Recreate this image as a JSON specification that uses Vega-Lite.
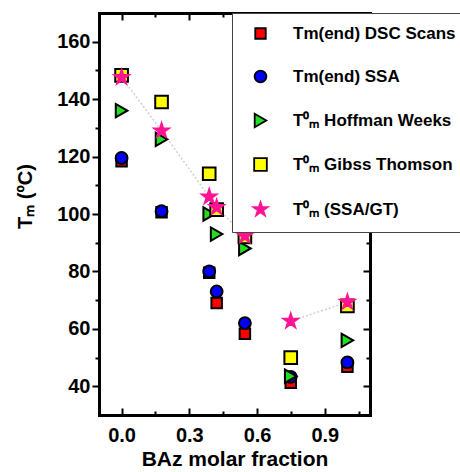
{
  "$schema": "https://vega.github.io/schema/vega-lite/v6.json",
  "width": 271,
  "height": 402,
  "autosize": {"type": "none"},
  "padding": {"left": 99, "top": 13, "right": 90, "bottom": 57},
  "background": "white",
  "config": {
    "view": {"stroke": null},
    "font": "Liberation Sans",
    "axis": {
      "grid": false,
      "domainColor": "black",
      "domainWidth": 3,
      "domainCap": "square",
      "tickColor": "black",
      "tickWidth": 2,
      "labelFont": "Liberation Sans",
      "labelFontWeight": "bold",
      "labelFontSize": 20,
      "labelColor": "black",
      "titleFont": "Liberation Sans",
      "titleFontWeight": "bold",
      "titleFontSize": 21,
      "titleColor": "black"
    },
    "legend": {
      "orient": "none",
      "legendX": 133,
      "legendY": 0,
      "fillColor": "white",
      "strokeColor": "#444444",
      "strokeWidth": 1,
      "padding": 12,
      "rowPadding": 23,
      "symbolOffset": 8,
      "labelOffset": 24,
      "labelFont": "Liberation Sans",
      "labelFontWeight": "bold",
      "labelFontSize": 17,
      "labelColor": "black",
      "labelLimit": 400,
      "symbolStrokeWidth": 1.8
    }
  },
  "data": {
    "values": [
      {"series": "Tm(end) DSC Scans", "x": 0.0, "y": 118.4, "seg": "a"},
      {"series": "Tm(end) DSC Scans", "x": 0.177, "y": 100.6, "seg": "a"},
      {"series": "Tm(end) DSC Scans", "x": 0.388, "y": 79.5, "seg": "a"},
      {"series": "Tm(end) DSC Scans", "x": 0.421, "y": 69, "seg": "a"},
      {"series": "Tm(end) DSC Scans", "x": 0.546, "y": 58.3, "seg": "a"},
      {"series": "Tm(end) DSC Scans", "x": 0.749, "y": 41.2, "seg": "b"},
      {"series": "Tm(end) DSC Scans", "x": 1.0, "y": 46.8, "seg": "b"},
      {"series": "Tm(end) SSA", "x": 0.0, "y": 119.5, "seg": "a"},
      {"series": "Tm(end) SSA", "x": 0.177, "y": 101, "seg": "a"},
      {"series": "Tm(end) SSA", "x": 0.388, "y": 80, "seg": "a"},
      {"series": "Tm(end) SSA", "x": 0.421, "y": 73, "seg": "a"},
      {"series": "Tm(end) SSA", "x": 0.546, "y": 62, "seg": "a"},
      {"series": "Tm(end) SSA", "x": 0.749, "y": 43.3, "seg": "b"},
      {"series": "Tm(end) SSA", "x": 1.0, "y": 48.3, "seg": "b"},
      {"series": "T⁰ₘ Hoffman Weeks", "x": 0.0, "y": 136, "seg": "a"},
      {"series": "T⁰ₘ Hoffman Weeks", "x": 0.177, "y": 126, "seg": "a"},
      {"series": "T⁰ₘ Hoffman Weeks", "x": 0.388, "y": 100, "seg": "a"},
      {"series": "T⁰ₘ Hoffman Weeks", "x": 0.421, "y": 93, "seg": "a"},
      {"series": "T⁰ₘ Hoffman Weeks", "x": 0.546, "y": 88, "seg": "a"},
      {"series": "T⁰ₘ Hoffman Weeks", "x": 0.749, "y": 43.5, "seg": "b"},
      {"series": "T⁰ₘ Hoffman Weeks", "x": 1.0, "y": 56, "seg": "b"},
      {"series": "T⁰ₘ Gibss Thomson", "x": 0.0, "y": 148.3, "seg": "a"},
      {"series": "T⁰ₘ Gibss Thomson", "x": 0.177, "y": 139, "seg": "a"},
      {"series": "T⁰ₘ Gibss Thomson", "x": 0.388, "y": 114, "seg": "a"},
      {"series": "T⁰ₘ Gibss Thomson", "x": 0.421, "y": 101.5, "seg": "a"},
      {"series": "T⁰ₘ Gibss Thomson", "x": 0.546, "y": 92, "seg": "a"},
      {"series": "T⁰ₘ Gibss Thomson", "x": 0.749, "y": 50, "seg": "b"},
      {"series": "T⁰ₘ Gibss Thomson", "x": 1.0, "y": 68, "seg": "b"},
      {"series": "T⁰ₘ (SSA/GT)", "x": 0.0, "y": 147.6, "seg": "a"},
      {"series": "T⁰ₘ (SSA/GT)", "x": 0.177, "y": 129, "seg": "a"},
      {"series": "T⁰ₘ (SSA/GT)", "x": 0.388, "y": 106, "seg": "a"},
      {"series": "T⁰ₘ (SSA/GT)", "x": 0.421, "y": 102.3, "seg": "a"},
      {"series": "T⁰ₘ (SSA/GT)", "x": 0.546, "y": 92.4, "seg": "a"},
      {"series": "T⁰ₘ (SSA/GT)", "x": 0.749, "y": 62.7, "seg": "b"},
      {"series": "T⁰ₘ (SSA/GT)", "x": 1.0, "y": 69.3, "seg": "b"}
    ]
  },
  "layer": [
    {
      "transform": [{"filter": "datum.series === 'T⁰ₘ (SSA/GT)'"}],
      "mark": {"type": "line", "color": "#d0d0d0", "strokeWidth": 1.5, "strokeDash": [2, 2]},
      "encoding": {
        "x": {"field": "x", "type": "quantitative", "scale": {"domain": [-0.1, 1.1], "nice": false, "zero": false},
          "axis": {"orient": "bottom", "values": [0, 0.3, 0.6, 0.9], "format": ".1f", "tickSize": -7, "labelPadding": 17, "title": "BAz molar fraction", "titlePadding": 3}},
        "y": {"field": "y", "type": "quantitative", "scale": {"domain": [30, 170], "nice": false, "zero": false},
          "axis": {"orient": "left", "values": [40, 60, 80, 100, 120, 140, 160], "tickSize": 7, "labelPadding": 2, "title": "Tₘ (ºC)", "titleFontSize": 20, "titleX": -64, "titleY": 183}},
        "detail": {"field": "seg"}
      }
    },
    {
      "mark": {"type": "point", "filled": true, "opacity": 1, "strokeWidth": 2},
      "encoding": {
        "x": {"field": "x", "type": "quantitative", "scale": {"domain": [-0.1, 1.1], "nice": false, "zero": false},
          "axis": {"orient": "top", "values": [0, 0.3, 0.6, 0.9], "labels": false, "tickSize": -7, "title": null}},
        "y": {"field": "y", "type": "quantitative", "scale": {"domain": [30, 170], "nice": false, "zero": false},
          "axis": {"orient": "right", "values": [40, 60, 80, 100, 120, 140, 160], "labels": false, "tickSize": -7, "title": null}},
        "fill": {"field": "series", "type": "nominal", "title": null,
          "scale": {"domain": ["Tm(end) DSC Scans", "Tm(end) SSA", "T⁰ₘ Hoffman Weeks", "T⁰ₘ Gibss Thomson", "T⁰ₘ (SSA/GT)"],
                    "range": ["#ff0000", "#0000ff", "#22dd22", "#ffff00", "#ff1493"]}},
        "stroke": {"field": "series", "type": "nominal", "title": null,
          "scale": {"domain": ["Tm(end) DSC Scans", "Tm(end) SSA", "T⁰ₘ Hoffman Weeks", "T⁰ₘ Gibss Thomson", "T⁰ₘ (SSA/GT)"],
                    "range": ["#000000", "#000000", "#000000", "#000000", "#ff1493"]}},
        "shape": {"field": "series", "type": "nominal", "title": null,
          "scale": {"domain": ["Tm(end) DSC Scans", "Tm(end) SSA", "T⁰ₘ Hoffman Weeks", "T⁰ₘ Gibss Thomson", "T⁰ₘ (SSA/GT)"],
                    "range": ["square", "circle", "triangle-right", "square", "M0,-1L0.2245,-0.309L0.9511,-0.309L0.3633,0.118L0.5878,0.809L0,0.382L-0.5878,0.809L-0.3633,0.118L-0.9511,-0.309L-0.2245,-0.309Z"]}},
        "size": {"field": "series", "type": "ordinal", "title": null,
          "scale": {"type": "ordinal", "domain": ["Tm(end) DSC Scans", "Tm(end) SSA", "T⁰ₘ Hoffman Weeks", "T⁰ₘ Gibss Thomson", "T⁰ₘ (SSA/GT)"],
                    "range": [110, 140, 180, 160, 220]}}
      }
    },
    {
      "mark": {"type": "point", "opacity": 0},
      "encoding": {
        "x": {"field": "x", "type": "quantitative", "scale": {"domain": [-0.1, 1.1], "nice": false, "zero": false},
          "axis": {"orient": "bottom", "values": [0.15, 0.45, 0.75, 1.05], "labels": false, "domain": false, "tickSize": -4, "title": null}},
        "y": {"field": "y", "type": "quantitative", "scale": {"domain": [30, 170], "nice": false, "zero": false},
          "axis": {"orient": "left", "values": [50, 70, 90, 110, 130, 150], "labels": false, "domain": false, "tickSize": 4, "title": null}}
      }
    },
    {
      "mark": {"type": "point", "opacity": 0},
      "encoding": {
        "x": {"field": "x", "type": "quantitative", "scale": {"domain": [-0.1, 1.1], "nice": false, "zero": false},
          "axis": {"orient": "top", "values": [0.15, 0.45, 0.75, 1.05], "labels": false, "domain": false, "tickSize": -4, "title": null}},
        "y": {"field": "y", "type": "quantitative", "scale": {"domain": [30, 170], "nice": false, "zero": false},
          "axis": {"orient": "right", "values": [50, 70, 90, 110, 130, 150], "labels": false, "domain": false, "tickSize": -4, "title": null}}
      }
    }
  ],
  "resolve": {"axis": {"x": "independent", "y": "independent"}}
}
